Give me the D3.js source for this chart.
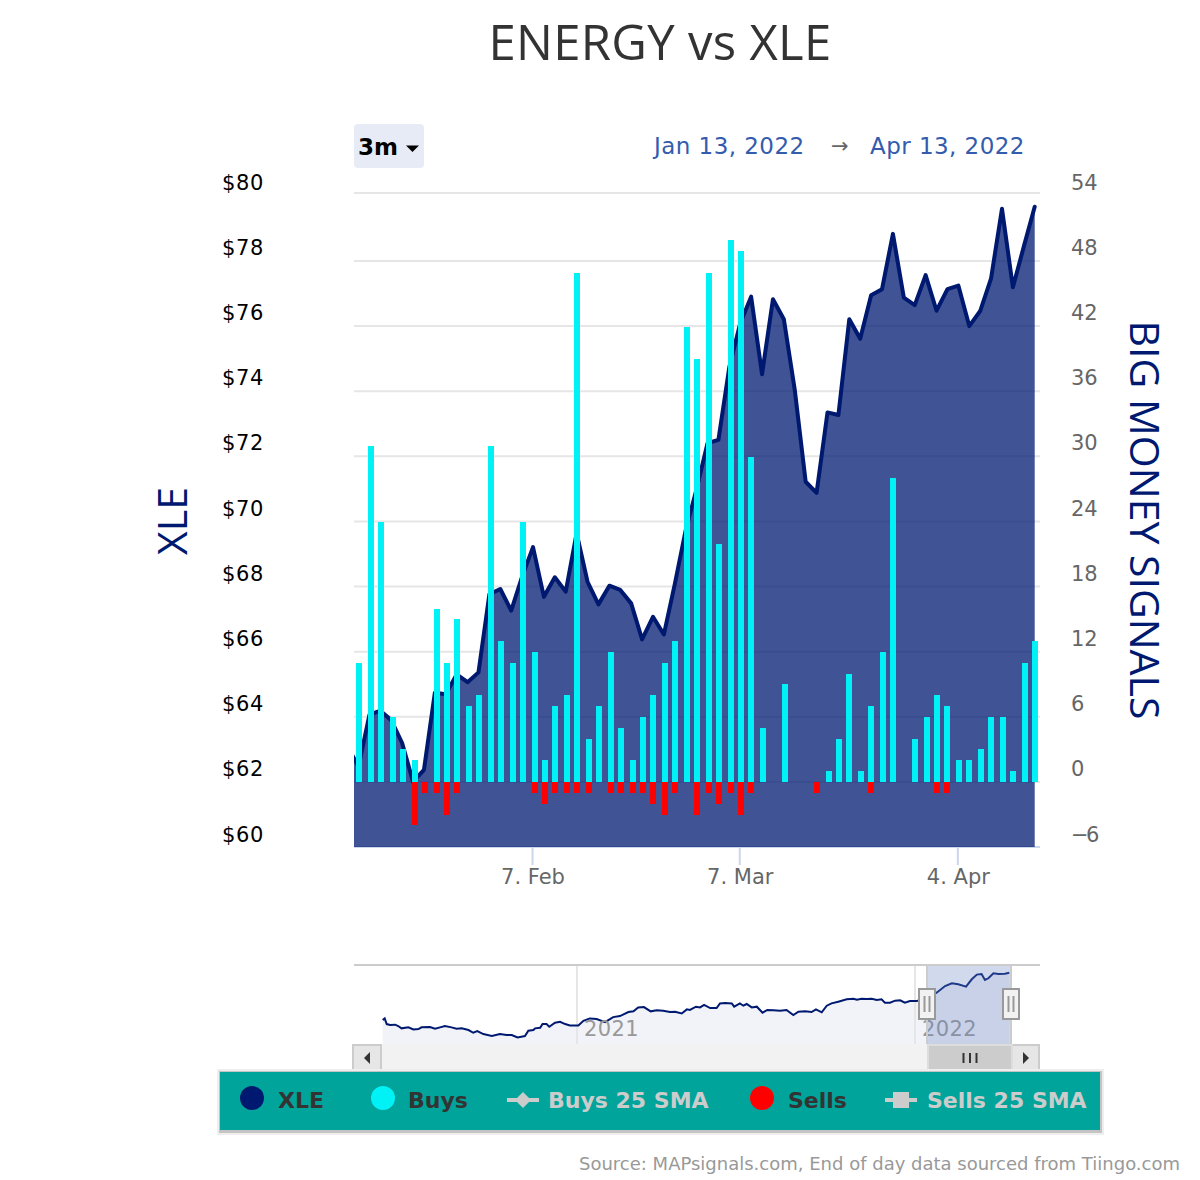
<!DOCTYPE html>
<html><head><meta charset="utf-8">
<script src="https://cdn.jsdelivr.net/npm/d3@7/dist/d3.min.js"></script>
<style>html,body{margin:0;padding:0;background:#fff}svg{display:block}text{font-family:"DejaVu Sans",sans-serif}</style>
</head><body><div id="c"></div>
<script>
const dates=["Jan 12","Jan 13","Jan 14","Jan 18","Jan 19","Jan 20","Jan 21","Jan 24","Jan 25","Jan 26","Jan 27","Jan 28","Jan 31","Feb 1","Feb 2","Feb 3","Feb 4","Feb 7","Feb 8","Feb 9","Feb 10","Feb 11","Feb 14","Feb 15","Feb 16","Feb 17","Feb 18","Feb 22","Feb 23","Feb 24","Feb 25","Feb 28","Mar 1","Mar 2","Mar 3","Mar 4","Mar 7","Mar 8","Mar 9","Mar 10","Mar 11","Mar 14","Mar 15","Mar 16","Mar 17","Mar 18","Mar 21","Mar 22","Mar 23","Mar 24","Mar 25","Mar 28","Mar 29","Mar 30","Mar 31","Apr 1","Apr 4","Apr 5","Apr 6","Apr 7","Apr 8","Apr 11","Apr 12","Apr 13"];
const xle=[63.06,62.46,64.04,64.17,63.88,63.18,62.0,62.36,64.72,64.67,65.28,65.04,65.34,67.73,67.89,67.23,68.27,69.17,67.65,68.25,67.81,69.6,68.11,67.42,67.99,67.86,67.45,66.35,67.04,66.5,68.04,69.69,70.95,72.35,72.45,74.68,76.02,76.83,74.46,76.75,76.14,73.98,71.17,70.83,73.29,73.21,76.14,75.54,76.87,77.06,78.75,76.8,76.57,77.49,76.4,77.06,77.17,75.93,76.39,77.39,79.52,77.12,78.36,79.58];
const buys=[0,11,31,24,6,3,2,0,16,11,15,7,8,31,13,11,24,12,2,7,8,47,4,7,12,5,2,6,8,11,13,42,39,47,22,50,49,30,5,0,9,0,0,0,1,4,10,1,7,12,28,0,4,6,8,7,2,2,3,6,6,1,11,13];
const sells=[0,0,0,0,0,0,4,1,1,3,1,0,0,0,0,0,0,1,2,1,1,1,1,0,1,1,1,1,2,3,1,0,3,1,2,1,3,1,0,0,0,0,0,1,0,0,0,0,1,0,0,0,0,0,1,1,0,0,0,0,0,0,0,0];
const priceTicks=[60,62,64,66,68,70,72,74,76,78,80];
const signalTicks=[-6,0,6,12,18,24,30,36,42,48,54];
const dateTicks=[{d:"Feb 7",t:"7. Feb"},{d:"Mar 7",t:"7. Mar"},{d:"Apr 4",t:"4. Apr"}];
const navYears=[2020.425,2020.431,2020.437,2020.447,2020.462,2020.471,2020.481,2020.501,2020.516,2020.531,2020.540,2020.565,2020.580,2020.595,2020.609,2020.629,2020.644,2020.659,2020.679,2020.693,2020.705,2020.723,2020.748,2020.772,2020.792,2020.807,2020.824,2020.846,2020.856,2020.871,2020.876,2020.891,2020.898,2020.910,2020.918,2020.935,2020.950,2020.965,2020.979,2021.004,2021.019,2021.038,2021.058,2021.083,2021.107,2021.127,2021.152,2021.167,2021.181,2021.198,2021.218,2021.236,2021.255,2021.275,2021.290,2021.310,2021.325,2021.334,2021.352,2021.364,2021.376,2021.394,2021.413,2021.423,2021.438,2021.458,2021.465,2021.482,2021.492,2021.502,2021.517,2021.532,2021.549,2021.563,2021.581,2021.601,2021.620,2021.640,2021.655,2021.675,2021.694,2021.707,2021.724,2021.739,2021.753,2021.773,2021.798,2021.818,2021.828,2021.842,2021.857,2021.872,2021.887,2021.901,2021.911,2021.926,2021.941,2021.956,2021.970,2021.985,2022.005,2022.025,2022.064,2022.089,2022.109,2022.128,2022.151,2022.168,2022.183,2022.197,2022.207,2022.217,2022.232,2022.247,2022.266,2022.279];
const navPrices=[40.9,42.2,37.6,36.8,37.1,36.0,34.1,34.9,33.2,33.5,34.9,35.2,33.8,34.9,36.0,34.9,33.8,34.1,32.7,30.5,31.9,29.4,27.8,29.4,28.6,28.6,26.7,27.8,32.2,32.7,34.1,34.6,37.6,37.6,35.4,38.7,39.5,37.6,36.5,36.5,40.3,42.2,41.7,39.2,43.3,44.1,47.4,48.0,51.2,51.5,48.0,48.8,48.5,47.4,47.7,46.3,49.6,49.1,51.8,51.2,53.2,50.7,50.7,54.5,54.8,54.5,51.8,54.5,52.6,54.0,51.2,51.8,46.9,49.1,48.8,48.5,49.1,45.0,47.7,48.0,47.4,49.6,47.2,52.6,54.5,55.9,57.8,58.3,57.5,58.3,58.0,58.3,57.2,57.8,55.1,55.1,56.7,57.0,55.1,56.4,56.4,57.8,63.2,68.7,70.9,70.1,68.2,74.2,78.0,78.5,73.6,75.0,79.1,78.5,78.8,79.6];
const navYearTicks=[2021,2022];
const legendItems=[{n:"XLE",c:"#001970",k:"dot"},{n:"Buys",c:"#00f2f7",k:"dot"},{n:"Buys 25 SMA",c:"#cccccc",k:"diamond"},{n:"Sells",c:"#ff0000",k:"dot"},{n:"Sells 25 SMA",c:"#cccccc",k:"square"}];

const W=1200,H=1180,L=354,R=1040,T=193,B=847;
const svg=d3.select("#c").append("svg").attr("width",W).attr("height",H);
const x=d3.scalePoint(dates,[347.6,1034.7]);
const xBar=d3.scalePoint(dates,[348.96,1035.03]);
const yP=d3.scaleLinear([60,80],[B,T]);
const yGrid=d3.scaleLinear([-6,48,54],[B,261,T]);
const yPriceLabel=d3.scaleLinear([60,80],[841.5,189.5]);
const ySignalLabel=d3.scaleLinear([-6,54],[841.5,189.5]);
const yB=d3.scaleLinear([0,50],[782,240]);
const barX=d=>2*Math.floor(xBar(d)/2)-2;
const navy="#001970";

svg.append("defs").append("clipPath").attr("id","plot").append("rect").attr("x",L).attr("y",T-10).attr("width",R-L).attr("height",B-T+10);

// title
svg.append("text").attr("x",660).attr("y",60).attr("text-anchor","middle").attr("font-size",49).attr("letter-spacing",0.3).attr("fill","#333").style("font-family","'Open Sans'").text("ENERGY vs XLE");

// grid
svg.append("g").selectAll("line").data(signalTicks.slice(1)).join("line").attr("x1",L).attr("x2",R).attr("y1",d=>yGrid(d)).attr("y2",d=>yGrid(d)).attr("stroke","#e6e6e6").attr("stroke-width",2);
svg.append("line").attr("x1",L).attr("x2",R).attr("y1",B).attr("y2",B).attr("stroke","#ccd6eb").attr("stroke-width",2);

// area + line
const idx=dates.map((d,i)=>i);
const area=d3.area().x(i=>x(dates[i])).y0(B).y1(i=>yP(xle[i]));
const line=d3.line().x(i=>x(dates[i])).y(i=>yP(xle[i]));
const g=svg.append("g").attr("clip-path","url(#plot)");
g.append("path").attr("d",area(idx)).attr("fill",navy).attr("fill-opacity",0.75);
g.append("path").attr("d",line(idx)).attr("fill","none").attr("stroke",navy).attr("stroke-width",4).attr("stroke-linejoin","round").attr("stroke-linecap","round");

// bars
svg.append("g").selectAll("rect").data(idx.filter(i=>buys[i]>0)).join("rect").attr("x",i=>barX(dates[i])).attr("width",6).attr("y",i=>Math.round(yB(buys[i]))).attr("height",i=>yB(0)-Math.round(yB(buys[i]))).attr("fill","#00f2f7");
svg.append("g").selectAll("rect").data(idx.filter(i=>sells[i]>0)).join("rect").attr("x",i=>barX(dates[i])).attr("width",6).attr("y",yB(0)).attr("height",i=>Math.round(yB(0)-yB(sells[i]))).attr("fill","#ff0000");

// x ticks
const xt=svg.append("g");
xt.selectAll("line").data(dateTicks).join("line").attr("x1",d=>x(d.d)-0.5).attr("x2",d=>x(d.d)-0.5).attr("y1",B).attr("y2",865).attr("stroke","#ccd6eb").attr("stroke-width",2);
xt.selectAll("text").data(dateTicks).join("text").attr("x",d=>x(d.d)).attr("y",884).attr("text-anchor","middle").attr("font-size",21).attr("fill","#666").text(d=>d.t);

// y labels
svg.append("g").selectAll("text").data(priceTicks).join("text").attr("x",264).attr("y",d=>yPriceLabel(d)).attr("text-anchor","end").attr("font-size",21).attr("letter-spacing",0.6).attr("fill","#000").text(d=>"$"+d);
svg.append("g").selectAll("text").data(signalTicks).join("text").attr("x",1071).attr("y",d=>ySignalLabel(d)).attr("font-size",21).attr("fill","#666").attr("letter-spacing",d=>d<0?-2.5:0).text(d=>d<0?"−"+(-d):d);

// axis titles
svg.append("text").attr("transform","translate(187,521) rotate(-90)").attr("text-anchor","middle").attr("font-size",41).attr("fill",navy).style("font-family","'Open Sans'").text("XLE");
svg.append("text").attr("transform","translate(1130,520) rotate(90)").attr("text-anchor","middle").attr("font-size",41).attr("fill",navy).style("font-family","'Open Sans'").text("BIG MONEY SIGNALS");

// range selector
svg.append("rect").attr("x",354).attr("y",124).attr("width",70).attr("height",44).attr("rx",4).attr("fill","#e6ebf5");
svg.append("text").attr("x",358).attr("y",155).attr("font-size",23).attr("font-weight","bold").attr("fill","#000").text("3m");
svg.append("path").attr("d","M406 145.500h13l-6.500 6.500z").attr("fill","#000");
svg.append("text").attr("x",654).attr("y",154).attr("font-size",23).attr("letter-spacing",0.45).attr("fill","#335cad").text("Jan 13, 2022");
svg.append("text").attr("x",870).attr("y",154).attr("font-size",23).attr("letter-spacing",0.45).attr("fill","#335cad").text("Apr 13, 2022");
svg.append("text").attr("x",831).attr("y",153).attr("font-size",21).attr("fill","#666").text("→");

// navigator
const nx=d3.scaleLinear([2021,2022],[577,915]);
const ny=d3.scaleLinear([21.3,79.58],[1044,972.7]);
const nIdx=navYears.map((d,i)=>i);
const n=svg.append("g");
n.append("path").attr("d",d3.area().x(i=>nx(navYears[i])).y0(1044).y1(i=>ny(navPrices[i]))(nIdx)).attr("fill",navy).attr("fill-opacity",0.05);
n.selectAll("line.g").data(navYearTicks).join("line").attr("x1",d=>nx(d)).attr("x2",d=>nx(d)).attr("y1",966).attr("y2",1044).attr("stroke","#e6e6e6").attr("stroke-width",2);
n.append("path").attr("d",d3.line().x(i=>nx(navYears[i])).y(i=>ny(navPrices[i]))(nIdx)).attr("fill","none").attr("stroke",navy).attr("stroke-width",2);
n.selectAll("text").data(navYearTicks).join("text").attr("x",d=>nx(d)+7).attr("y",1036).attr("font-size",21).attr("letter-spacing",0.4).attr("fill","#999").text(d=>d);
n.append("rect").attr("x",927).attr("y",966).attr("width",84).attr("height",78).attr("fill","#6685c2").attr("fill-opacity",0.3);
n.append("line").attr("x1",L).attr("x2",R).attr("y1",965).attr("y2",965).attr("stroke","#ccc").attr("stroke-width",2);
n.append("line").attr("x1",927).attr("x2",927).attr("y1",965).attr("y2",1044).attr("stroke","#ccc").attr("stroke-width",2);
n.append("line").attr("x1",1011).attr("x2",1011).attr("y1",965).attr("y2",1044).attr("stroke","#ccc").attr("stroke-width",2);
[919,1003].forEach(hx=>{
  n.append("rect").attr("x",hx).attr("y",989).attr("width",16).attr("height",30).attr("fill","#f2f2f2").attr("stroke","#999").attr("stroke-width",2);
  [hx+5.5,hx+10.5].forEach(lx=>n.append("line").attr("x1",lx).attr("x2",lx).attr("y1",996).attr("y2",1012).attr("stroke","#999").attr("stroke-width",2));
});

// scrollbar
const s=svg.append("g");
s.append("rect").attr("x",354).attr("y",1044).attr("width",685).attr("height",28).attr("fill","#f2f2f2");
s.append("rect").attr("x",353).attr("y",1045).attr("width",28).attr("height",27).attr("fill","#e6e6e6").attr("stroke","#ccc").attr("stroke-width",2);
s.append("path").attr("d","M370 1052v12l-6-6z").attr("fill","#333");
s.append("rect").attr("x",1012).attr("y",1045).attr("width",27).attr("height",27).attr("fill","#e6e6e6").attr("stroke","#ccc").attr("stroke-width",2);
s.append("path").attr("d","M1023 1052v12l6-6z").attr("fill","#333");
s.append("rect").attr("x",928).attr("y",1045).attr("width",84).attr("height",28).attr("fill","#ccc").attr("stroke","#ddd").attr("stroke-width",2);
[963.5,970,976.5].forEach(lx=>s.append("line").attr("x1",lx).attr("x2",lx).attr("y1",1053).attr("y2",1063).attr("stroke","#333").attr("stroke-width",2));

// legend
const lg=svg.append("g");
lg.append("rect").attr("x",217).attr("y",1069).attr("width",887).attr("height",66).attr("fill","#eeeeee");
lg.append("rect").attr("x",219).attr("y",1071).attr("width",883).attr("height",62).attr("fill","#c4c4c4");
lg.append("rect").attr("x",220).attr("y",1072).attr("width",880).attr("height",58).attr("fill","#00a49a");
const lxs=[{s:252,t:278},{s:383,t:408},{s:523,t:548},{s:762,t:788},{s:901,t:927}];
legendItems.forEach((d,i)=>{
  const p=lxs[i],cy=1098;
  if(d.k==="dot") lg.append("circle").attr("cx",p.s).attr("cy",cy).attr("r",12).attr("fill",d.c);
  else{
    lg.append("line").attr("x1",p.s-16).attr("x2",p.s+16).attr("y1",cy+2).attr("y2",cy+2).attr("stroke",d.c).attr("stroke-width",4);
    if(d.k==="diamond") lg.append("path").attr("d",`M${p.s} ${cy-6}l8 8-8 8-8-8z`).attr("fill",d.c);
    else lg.append("rect").attr("x",p.s-8).attr("y",cy-6).attr("width",16).attr("height",16).attr("fill",d.c);
  }
  lg.append("text").attr("x",p.t).attr("y",cy+10).attr("font-size",22).attr("font-weight","bold").attr("fill",d.k==="dot"?"#333":"#ccc").text(d.n);
});

// credits
svg.append("text").attr("x",1180).attr("y",1170).attr("text-anchor","end").attr("font-size",18).attr("fill","#999").text("Source: MAPsignals.com, End of day data sourced from Tiingo.com");
</script></body></html>
